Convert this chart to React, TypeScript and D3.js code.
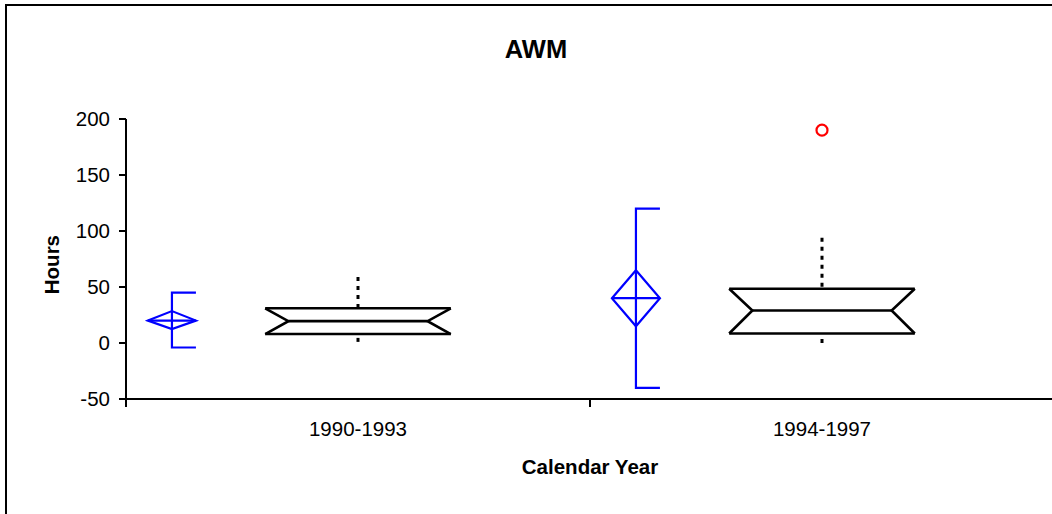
import * as d3 from "d3";

const categories = ["1990-1993", "1994-1997"];

// blue mean / confidence diamond and spread bars
const means = [20, 40];
const ciLow = [12.5, 15];
const ciHigh = [28.5, 65];
const spreadLow = [-4, -40];
const spreadHigh = [45, 120];

// notched box plots
const q1 = [8, 8.5];
const medians = [19.5, 29];
const q3 = [31, 48.5];
const whiskerLow = [1, 0];
const whiskerHigh = [59, 94];
const outliers = [[], [190]];

const yTicks = [-50, 0, 50, 100, 150, 200];

const W = 1052;
const H = 514;
const FONT = "'Liberation Sans', Arial, Helvetica, sans-serif";

export default function App() {
  const x = d3.scaleBand<string>().domain(categories).range([126, 1054]).paddingInner(0).paddingOuter(0);
  const y = d3.scaleLinear().domain([-50, 200]).range([399, 119]);
  const bw = x.bandwidth();
  const boxHalf = bw * 0.2;
  const notch = bw * 0.05;
  const diamondHalf = 24;
  const blueOffset = bw * 0.099;

  return (
    <div style={{ position: "absolute", left: 0, top: 0 }}>
      <svg width={W} height={H} style={{ display: "block", fontFamily: FONT }}>
        <rect x={0} y={0} width={W} height={H} fill="#fff" />
        <rect x={6} y={5} width={1200} height={700} fill="none" stroke="#000" strokeWidth={2} />

        <text x={536} y={58} textAnchor="middle" fontSize={25.5} fontWeight="bold">AWM</text>

        {/* y axis */}
        <line x1={126} x2={126} y1={y(200)} y2={y(-50)} stroke="#000" strokeWidth={2} />
        {yTicks.map((t) => (
          <g key={t}>
            <line x1={119} x2={126} y1={y(t)} y2={y(t)} stroke="#000" strokeWidth={2} />
            <text x={110} y={y(t) + 7} textAnchor="end" fontSize={20.5}>{t}</text>
          </g>
        ))}
        <text
          transform={`translate(59,${y(70)}) rotate(-90)`}
          textAnchor="middle"
          fontSize={20.5}
          fontWeight="bold"
        >Hours</text>

        {/* x axis */}
        <line x1={126} x2={1054} y1={y(-50)} y2={y(-50)} stroke="#000" strokeWidth={2} />
        {categories.map((c) => (
          <line key={c} x1={x(c)!} x2={x(c)!} y1={y(-50)} y2={y(-50) + 8} stroke="#000" strokeWidth={2} />
        ))}
        {categories.map((c) => (
          <text key={c} x={x(c)! + bw / 2} y={436} textAnchor="middle" fontSize={20.5}>{c}</text>
        ))}
        <text x={590} y={474} textAnchor="middle" fontSize={20.5} fontWeight="bold">Calendar Year</text>

        {categories.map((c, i) => {
          const bx = x(c)! + blueOffset;
          const cx = x(c)! + bw / 2;
          const l = cx - boxHalf;
          const r = cx + boxHalf;
          return (
            <g key={c}>
              {/* blue spread bar + diamond */}
              <g stroke="#0000ff" strokeWidth={2.2} fill="none">
                <polyline points={`${bx + 24},${y(spreadHigh[i])} ${bx},${y(spreadHigh[i])} ${bx},${y(spreadLow[i])} ${bx + 24},${y(spreadLow[i])}`} />
                <polygon points={`${bx - diamondHalf},${y(means[i])} ${bx},${y(ciHigh[i])} ${bx + diamondHalf},${y(means[i])} ${bx},${y(ciLow[i])}`} />
                <line x1={bx - diamondHalf} x2={bx + diamondHalf} y1={y(means[i])} y2={y(means[i])} />
              </g>

              {/* whiskers */}
              <g stroke="#000" strokeWidth={3} strokeDasharray="4 5">
                <line x1={cx} x2={cx} y1={y(whiskerHigh[i])} y2={y(q3[i])} />
                <line x1={cx} x2={cx} y1={y(whiskerLow[i])} y2={y(q1[i])} />
              </g>

              {/* notched box */}
              <g stroke="#000" strokeWidth={2.6} fill="none" strokeLinejoin="miter">
                <line x1={l} x2={r} y1={y(q3[i])} y2={y(q3[i])} />
                <line x1={l} x2={r} y1={y(q1[i])} y2={y(q1[i])} />
                <line x1={l + notch} x2={r - notch} y1={y(medians[i])} y2={y(medians[i])} />
                <polyline points={`${l},${y(q3[i])} ${l + notch},${y(medians[i])} ${l},${y(q1[i])}`} />
                <polyline points={`${r},${y(q3[i])} ${r - notch},${y(medians[i])} ${r},${y(q1[i])}`} />
              </g>

              {outliers[i].map((o, j) => (
                <circle key={j} cx={cx} cy={y(o)} r={5.5} fill="none" stroke="#ff0000" strokeWidth={2.2} />
              ))}
            </g>
          );
        })}
      </svg>
    </div>
  );
}
